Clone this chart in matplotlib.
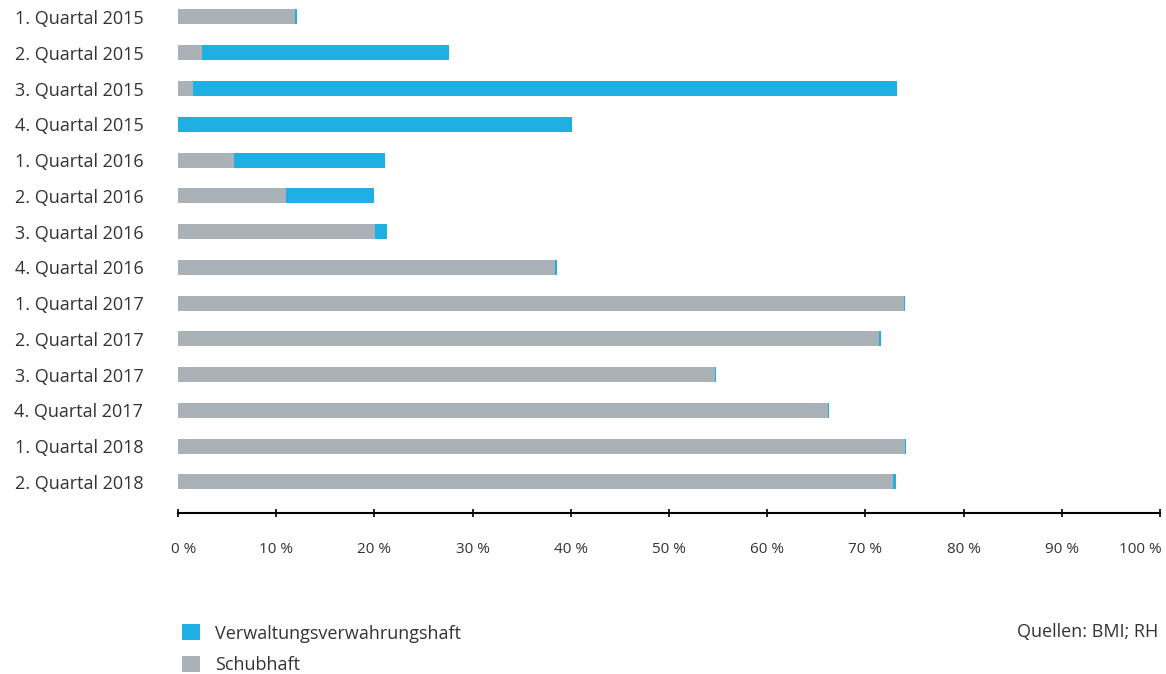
import numpy as np
import matplotlib
matplotlib.use("Agg")
import matplotlib.pyplot as plt
import matplotlib.transforms as mtransforms
from matplotlib.patches import Patch

plt.rcParams['font.family'] = ['Open Sans', 'DejaVu Sans']

# quarters shown top to bottom
quarters = ["1. Quartal 2015", "2. Quartal 2015", "3. Quartal 2015", "4. Quartal 2015",
            "1. Quartal 2016", "2. Quartal 2016", "3. Quartal 2016", "4. Quartal 2016",
            "1. Quartal 2017", "2. Quartal 2017", "3. Quartal 2017", "4. Quartal 2017",
            "1. Quartal 2018", "2. Quartal 2018"]

# share in percent
schubhaft = [11.9, 2.4, 1.5, 0.0, 5.7, 11.0, 20.1, 38.4, 73.9, 71.4, 54.7, 66.2, 74.0, 72.8]
verwahrung = [0.2, 25.2, 71.7, 40.1, 15.4, 9.0, 1.2, 0.2, 0.15, 0.15, 0.1, 0.1, 0.15, 0.3]

xticks = [0, 10, 20, 30, 40, 50, 60, 70, 80, 90, 100]
xticklabels = ["%d %%" % t for t in xticks]

blue = "#1fafe3"
gray = "#aab2b8"
text_col = "#333333"

fig = plt.figure(figsize=(11.66, 6.74), dpi=100)
ax = fig.add_axes([178 / 1166, 1 - 513 / 674, (1160 - 178) / 1166, 513 / 674])

y = np.arange(len(quarters))
ax.barh(y, schubhaft, height=0.42, color=gray, edgecolor='none')
ax.barh(y, verwahrung, left=schubhaft, height=0.42, color=blue, edgecolor='none')

ax.set_xlim(0, 100)
ax.set_ylim(13.87, -0.475)

ax.set_yticks(y)
ax.set_yticklabels(quarters, fontsize=13, color=text_col)
ax.tick_params(axis='y', length=0, pad=25)

ax.set_xticks(xticks)
ax.set_xticklabels(xticklabels, fontsize=11, color=text_col)
ax.tick_params(axis='x', direction='inout', length=6, width=1.2, color='black', pad=18)

# first and last tick labels are pulled inward like in the original
labels = ax.get_xticklabels()
labels[0].set_transform(labels[0].get_transform() +
                        mtransforms.ScaledTranslation(6 / 100, 0, fig.dpi_scale_trans))
labels[-1].set_transform(labels[-1].get_transform() +
                         mtransforms.ScaledTranslation(-20 / 100, 0, fig.dpi_scale_trans))

for s in ['top', 'right', 'left']:
    ax.spines[s].set_visible(False)
ax.spines['bottom'].set_linewidth(1.5)

handles = [Patch(facecolor=blue, edgecolor='none', label="Verwaltungsverwahrungshaft"),
           Patch(facecolor=gray, edgecolor='none', label="Schubhaft")]
fig.legend(handles=handles, loc='upper left', bbox_to_anchor=(166 / 1166, 1 - 608 / 674),
           frameon=False, fontsize=13, handlelength=1.0, handleheight=1.0,
           handletextpad=0.8, labelspacing=0.75, labelcolor=text_col)

fig.text(1158 / 1166, 1 - 632 / 674, "Quellen: BMI; RH", ha='right', va='center',
         fontsize=13, color=text_col)

fig.savefig("out.png", dpi=100)
